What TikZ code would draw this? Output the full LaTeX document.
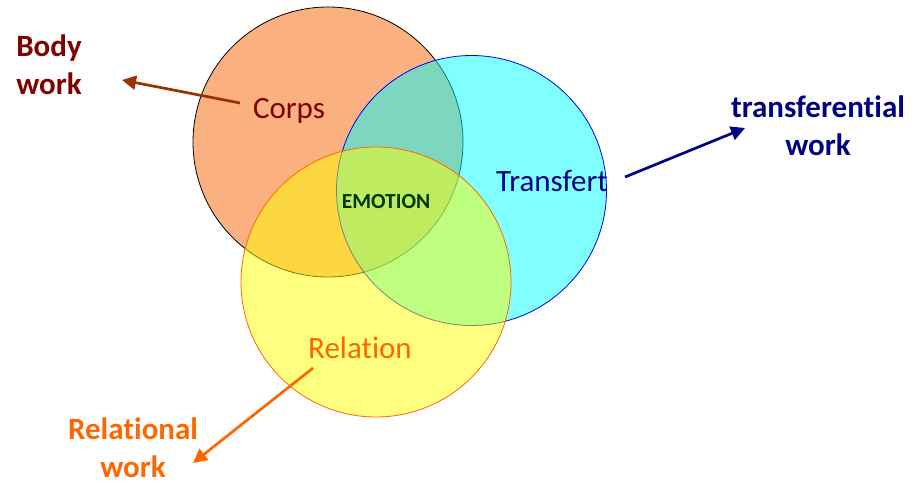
\documentclass[tikz,border=0pt]{standalone}
\usepackage{fontspec}
\setmainfont{Carlito}[Ligatures={NoCommon}]
\usetikzlibrary{arrows.meta}
\definecolor{corpsfill}{RGB}{251,176,128}
\definecolor{cyancol}{RGB}{0,255,255}
\definecolor{yellowcol}{RGB}{255,255,0}
\definecolor{bluecol}{RGB}{0,0,255}
\definecolor{darkred}{RGB}{128,0,0}
\definecolor{brownarrow}{RGB}{153,51,0}
\definecolor{navy}{RGB}{0,0,128}
\definecolor{orangetxt}{RGB}{255,102,0}
\definecolor{emogreen}{RGB}{0,55,0}
\tikzset{
  circ/.style={circle, line width=0.8pt, minimum size=270pt, inner sep=0pt},
  lbl/.style={font=\fontsize{31}{38}\selectfont, anchor=base, inner sep=0pt},
  blbl/.style={font=\fontsize{31}{38}\selectfont\bfseries, anchor=base, inner sep=0pt, align=center},
  arr/.style={line width=2.7pt, -{Triangle[length=14pt,width=14pt]}},
}
\begin{document}
\begin{tikzpicture}[x=1pt,y=-1pt]
\useasboundingbox (0,0) rectangle (915,484);
% circles
\node[circ, draw=black, fill=corpsfill] (corps) at (328,142) {};
\node[circ, draw=bluecol, fill=cyancol, fill opacity=0.5] (transfert) at (471.5,190.5) {};
\node[circ, draw=orangetxt, fill=yellowcol, fill opacity=0.5] (relation) at (376,282) {};
% circle labels
\node[lbl, text=darkred] (corpst) at (289,119) {Corps};
\node[lbl, text=navy] (transt) at (552,191) {Transfert};
\node[lbl, text=orangetxt] (relt) at (360,358) {Relation};
\node[font=\fontsize{21.5}{26}\selectfont\bfseries, anchor=base, inner sep=0pt, text=emogreen] (emo) at (386,208) {EMOTION};
% outer labels
\node[blbl, text=darkred] (body) at (49,95) {Body\\work};
\node[blbl, text=navy] (transw) at (818,155) {transferential\\work};
\node[blbl, text=orangetxt] (relw) at (133,477) {Relational\\work};
% arrows
\coordinate (bs) at (240,103);
\coordinate (be) at (122,80);
\coordinate (ts) at (625,177);
\coordinate (te) at (745,128);
\coordinate (rs) at (313,368);
\coordinate (re) at (193,463);
\draw[arr, brownarrow] (bs) -- (be);
\draw[arr, navy] (ts) -- (te);
\draw[arr, orangetxt] (rs) -- (re);
\end{tikzpicture}
\end{document}
